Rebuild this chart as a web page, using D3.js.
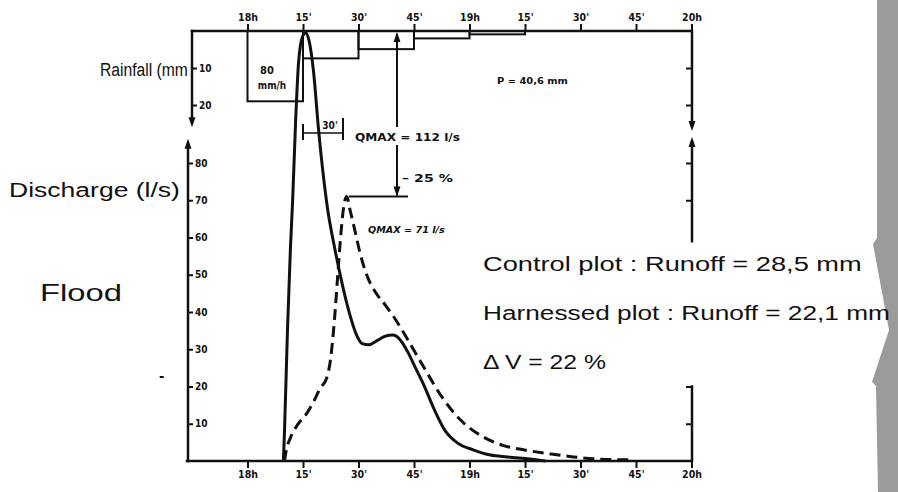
<!DOCTYPE html>
<html><head><meta charset="utf-8">
<script src="https://cdn.jsdelivr.net/npm/d3@7"></script>
<style>body{margin:0;background:#fff}svg{display:block}</style>
</head><body>
<svg id="c" width="898" height="492"></svg>
<script>
// ---------- data ----------
const timeTicks  = [0, 15, 30, 45, 60, 75, 90, 105, 120];          // minutes after 18h
const timeLabels = ["18h", "15'", "30'", "45'", "19h", "15'", "30'", "45'", "20h"];
const rainTicks  = [10, 20];                                           // mm
const dischargeTicks = [10, 20, 30, 40, 50, 60, 70, 80];             // l/s

const rainStart = [0, 15, 30, 45, 60];
const rainEnd   = [15, 30, 45, 60, 75];
const rainDepth = [19, 7.4, 4.9, 2.0, 0.9];

const controlMin = [9.7, 10.0, 10.8, 11.6, 12.2, 13.0, 13.8, 14.9, 15.7, 16.6, 17.8, 19.2, 21.6, 23.6, 25.6, 27.6, 29.4, 31.0, 32.8, 35.0, 37.2, 39.3, 41.3, 43.3, 45.4, 47.6, 50.4, 53.5, 56.8, 61.0, 65.7, 70.3, 78.4, 80.5];
const controlQ   = [0, 8, 35, 57, 70, 91, 107, 114, 115, 113, 105, 89, 68, 57, 47.5, 39.5, 34, 31.5, 31.2, 32.3, 33.5, 33.8, 32.5, 29.3, 25, 20.5, 14, 8, 4.8, 3.0, 1.6, 1.1, 0.3, 0];

const harnessedMin = [10.0, 10.5, 11.6, 13.5, 15.7, 17.8, 19.7, 21.4, 22.4, 23.5, 24.3, 25.1, 25.9, 26.8, 27.8, 29.0, 30.5, 32.4, 34.6, 37.3, 40.0, 42.7, 45.4, 48.1, 52.2, 57.6, 63.8, 69.7, 74.6, 81.9, 88.1, 95.4, 104.3];
const harnessedQ   = [0, 3, 6.2, 9.7, 12.3, 15.8, 19.6, 22.3, 27, 37.9, 48.6, 59.3, 67.5, 71, 67, 62, 55.5, 49.5, 45.3, 41.8, 38.0, 33.6, 29.0, 24.4, 17.7, 11, 6.4, 4, 3, 1.9, 1.1, 0.5, 0.3];

// ---------- layout ----------
const svg = d3.select("#c");
const x  = d3.scaleLinear().domain([0, 120]).range([247.5, 691.5]);
const yQ = d3.scaleLinear().domain([0, 80]).range([461, 163]);
const yR = d3.scaleLinear().domain([0, 20]).range([31, 105]);

const ink = "#111";
const tickFont = "'DejaVu Sans Condensed','DejaVu Sans',sans-serif";
const bigFont = "'Liberation Sans',Arial,sans-serif";

// gray scan border on the right
svg.append("path")
  .attr("d", "M877,0 L898,0 L898,492 L878,492 L876,386 L872,382 L889,330 L873,244 L877,238 Z")
  .attr("fill", "#9b9b9b");

function styleAxis(g, fs) {
  g.select(".domain").remove();
  g.selectAll(".tick line").attr("stroke", ink).attr("stroke-width", 2);
  g.selectAll(".tick text").attr("fill", ink).attr("font-family", tickFont)
    .attr("font-weight", "bold").attr("font-size", fs);
}

// top time axis
const topAx = svg.append("g").attr("transform", "translate(0,31)")
  .call(d3.axisTop(x).tickValues(timeTicks).tickFormat((d, i) => timeLabels[i]).tickSize(7).tickPadding(3));
styleAxis(topAx, 10.5);

// bottom time axis
const botAx = svg.append("g").attr("transform", "translate(0,461)")
  .call(d3.axisBottom(x).tickValues(timeTicks).tickFormat((d, i) => timeLabels[i]).tickSize(7).tickPadding(3));
styleAxis(botAx, 10.5);

// left rainfall axis
const rainAx = svg.append("g").attr("transform", "translate(192,0)")
  .call(d3.axisRight(yR).tickValues(rainTicks).tickSize(5).tickPadding(2));
styleAxis(rainAx, 10);

// left discharge axis
const qAx = svg.append("g").attr("transform", "translate(188,0)")
  .call(d3.axisRight(yQ).tickValues(dischargeTicks).tickSize(5).tickPadding(2));
styleAxis(qAx, 10);

// right side ticks
const rRain = svg.append("g").attr("transform", "translate(692,0)")
  .call(d3.axisLeft(yR).tickValues(rainTicks).tickSize(6).tickFormat(""));
styleAxis(rRain, 9);
const rQ = svg.append("g").attr("transform", "translate(692,0)")
  .call(d3.axisLeft(yQ).tickValues([10, 20, 70, 80]).tickSize(6).tickFormat(""));
styleAxis(rQ, 9);

// frame lines
const L = (x1, y1, x2, y2, w) => svg.append("line").attr("x1", x1).attr("y1", y1).attr("x2", x2).attr("y2", y2)
  .attr("stroke", ink).attr("stroke-width", w || 2.5).attr("stroke-linecap", "square");
L(192, yR(0), x(120), yR(0));            // top axis
L(187, yQ(0), x(120), yQ(0));            // bottom axis
L(192, yR(0), 192, yR(24.5));            // rain axis left
L(188, yQ(0), 188, yQ(85));              // discharge axis left
L(692, yR(0), 692, yR(25.5));            // right rain
L(692, yQ(85.5), 692, yQ(59));           // right discharge upper
L(692, yQ(20), 692, yQ(0));              // right bracket

function arrow(cx, tipY, dir) { // dir 1 = down, -1 = up
  const h = 10, w = 3.5;
  svg.append("path").attr("d", `M${cx},${tipY} L${cx - w},${tipY - dir * h} L${cx + w},${tipY - dir * h} Z`).attr("fill", ink);
}
arrow(192, yR(26), 1);
arrow(188, yQ(86.5), -1);
arrow(692, yR(27), 1);
arrow(692, yQ(87), -1);

// hyetograph
rainStart.forEach((s, i) => {
  svg.append("rect").attr("x", x(s)).attr("y", yR(0))
    .attr("width", x(rainEnd[i]) - x(s)).attr("height", yR(rainDepth[i]) - yR(0))
    .attr("fill", "none").attr("stroke", ink).attr("stroke-width", 2);
});

function t(txt, px, py, opts) {
  const o = Object.assign({ size: 9, weight: "bold", family: tickFont, anchor: "start", style: "normal" }, opts || {});
  const el = svg.append("text").attr("x", px).attr("y", py).text(txt)
    .attr("font-size", o.size).attr("font-weight", o.weight).attr("font-family", o.family)
    .attr("text-anchor", o.anchor).attr("font-style", o.style).attr("fill", ink);
  if (o.width) { // stretch horizontally to the width seen in the scan
    const w = el.node().getComputedTextLength();
    const s = o.width / w;
    el.attr("transform", `translate(${px},0) scale(${s},1) translate(${-px},0)`);
  }
  return el;
}
t("80", 267, 74, { size: 11, anchor: "middle" });
t("mm/h", 272, 89, { size: 10, anchor: "middle" });
t("P = 40,6 mm", 497, 84, { size: 9, width: 71 });

// curves
const line = d3.line().x(d => x(d[0])).y(d => yQ(d[1])).curve(d3.curveMonotoneX);
svg.append("path").datum(controlMin.map((m, i) => [m, controlQ[i]]))
  .attr("d", line).attr("fill", "none").attr("stroke", ink).attr("stroke-width", 3).attr("stroke-linejoin", "round");
svg.append("path").datum(harnessedMin.map((m, i) => [m, harnessedQ[i]]))
  .attr("d", line).attr("fill", "none").attr("stroke", ink).attr("stroke-width", 3)
  .attr("stroke-dasharray", "11,6");

// annotations: 30' interval
const ay = 133;
L(303, ay, 343, ay, 1.5);
L(303, ay - 8, 303, ay + 6, 2);
L(343, ay - 14, 343, ay + 6, 2);
t("30'", 330, ay - 4, { size: 10, anchor: "middle" });

// QMAX arrows
const vx = 397;
L(vx, yR(0) + 4, vx, 126, 2);
L(vx, 146, vx, yQ(71) - 2, 2);
arrow(vx, yR(0) + 1, -1);
arrow(vx, yQ(71), 1);
L(350, yQ(71), 407, yQ(71), 2);
t("QMAX = 112 l/s", 355, 141, { size: 10, width: 105 });
t("– 25 %", 402, 182, { size: 10, width: 51 });
t("QMAX = 71 l/s", 368, 233, { size: 9, style: "italic", width: 77 });

// big labels
t("Rainfall (mm", 100, 76, { size: 19, weight: "normal", family: bigFont, width: 88 });
t("Discharge (l/s)", 9, 197, { size: 20, weight: "normal", family: bigFont, width: 171 });
t("Flood", 40, 301, { size: 24, weight: "normal", family: bigFont, width: 82 });
t("Control plot : Runoff = 28,5 mm", 483, 271, { size: 21, weight: "normal", family: bigFont, width: 379 });
t("Harnessed plot : Runoff = 22,1 mm", 483, 320, { size: 21, weight: "normal", family: bigFont, width: 407 });
t("\u0394 V = 22 %", 483, 369, { size: 21, weight: "normal", family: bigFont, width: 123 });
t("-", 159, 381, { size: 16, weight: "bold", family: bigFont });
</script>
</body></html>
